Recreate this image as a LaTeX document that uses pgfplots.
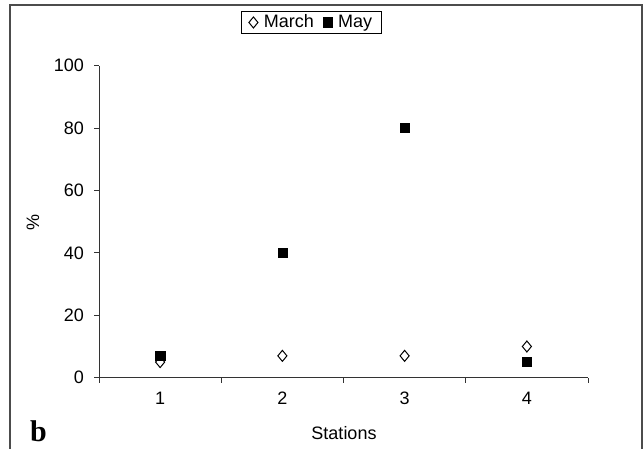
\documentclass[border=0pt]{standalone}
\usepackage{pgfplots}
\pgfplotsset{compat=1.18}
\usepackage{fontspec}
\setmainfont{Liberation Sans}
\newfontfamily\serifb{Liberation Serif}
\begin{document}
\fontsize{18bp}{21bp}\selectfont
\begin{tikzpicture}[x=1bp,y=1bp]
\useasboundingbox (0,0) rectangle (644,449);
\draw[line width=1.3bp, color=black!70] (10,-5) -- (10,444) -- (642,444) -- (642,-5);
\node[anchor=base west, inner sep=0pt, font=\serifb\bfseries\fontsize{30bp}{32bp}\selectfont] at (30,7) {b};
\begin{axis}[
  at={(99bp,71.3bp)}, anchor=south west,
  scale only axis, width=489bp, height=312bp,
  xmin=0.5, xmax=4.5, ymin=0, ymax=100,
  axis x line*=bottom, axis y line*=left,
  axis line style={line width=0.9bp, black!80},
  tick align=outside,
  xtick={1,2,3,4},
  major x tick style={draw=none},
  minor xtick={0.5,1.5,2.5,3.5,4.5},
  minor tick length=5bp, major tick length=5bp,
  every tick/.style={line width=0.9bp, black!80},
  ytick={0,20,40,60,80,100},
  yticklabel style={xshift=-4bp},
  xticklabel style={yshift=-3bp},
  tick label style={font=\fontsize{18bp}{21bp}\selectfont},
  /pgf/number format/assume math mode=true,
  xlabel={Stations},
  ylabel={\%},
  xlabel style={at={(axis description cs:0.501,-0.177)}, anchor=center},
  ylabel style={at={(axis description cs:-0.135,0.499)}, anchor=center},
  label style={font=\fontsize{18bp}{21bp}\selectfont},
  legend columns=2,
  legend style={at={(axis description cs:0.4346,1.1385)}, anchor=center,
    draw=black, line width=0.9bp, font=\fontsize{18bp}{21bp}\selectfont,
    inner xsep=7bp, inner ysep=1.5bp,
    /tikz/every odd column/.append style={column sep=4bp},
    /tikz/every even column/.append style={column sep=7bp}},
  legend image code/.code={\draw[#1] plot coordinates {(4bp,0bp)};},
  clip=false,
]
\addplot[only marks, mark=diamond, mark size=5.5bp, mark options={fill=white, draw=black, line width=1bp, xscale=1.1}]
  coordinates {(1,5) (2,7) (3,7) (4,10)};
\addlegendentry{March}
\addplot[only marks, mark=square*, mark size=4.6bp, mark options={fill=black, draw=black}]
  coordinates {(1,7) (2,40) (3,80) (4,5)};
\addlegendentry{May}
\end{axis}
\end{tikzpicture}
\end{document}
